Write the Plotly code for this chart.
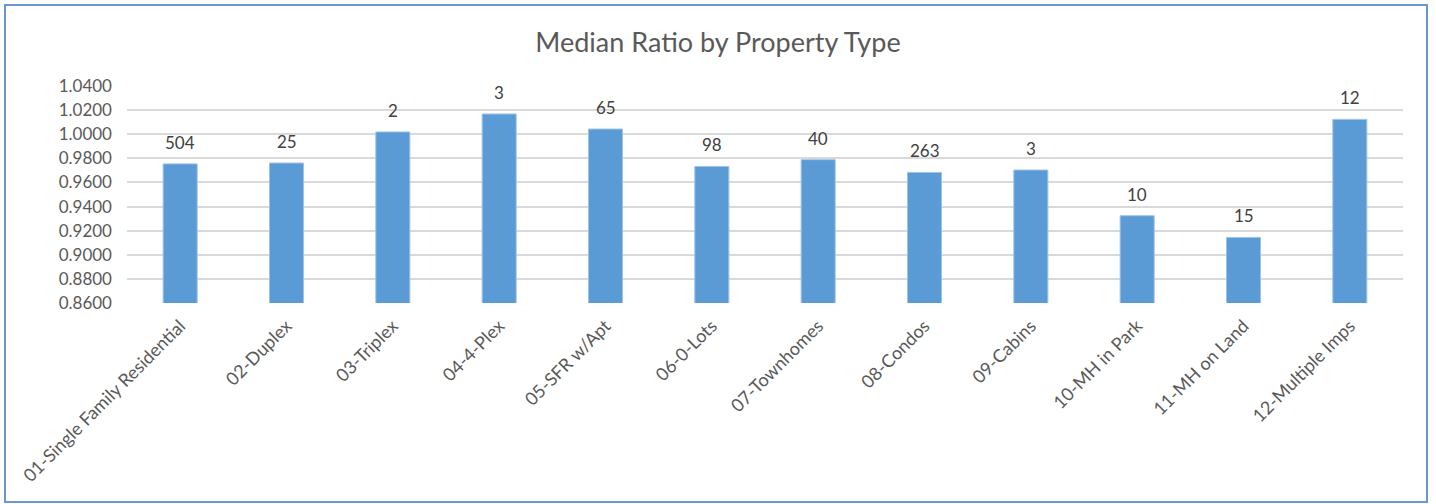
import plotly.graph_objects as go

categories = ["01-Single Family Residential", "02-Duplex", "03-Triplex", "04-4-Plex",
              "05-SFR w/Apt", "06-0-Lots", "07-Townhomes", "08-Condos", "09-Cabins",
              "10-MH in Park", "11-MH on Land", "12-Multiple Imps"]
median_ratio = [0.9754, 0.9761, 1.0019, 1.0168, 1.0043, 0.9733, 0.9789, 0.9683,
                0.9703, 0.9324, 0.9144, 1.0123]
counts = [504, 25, 2, 3, 65, 98, 40, 263, 3, 10, 15, 12]

FONT = "Lato"
fig = go.Figure()
fig.add_trace(go.Bar(
    x=categories, y=median_ratio,
    marker=dict(color="#5B9BD5", line=dict(color="#9DC3E6", width=1)),
    width=0.32, hoverinfo="x+y",
))
for c, v, n in zip(categories, median_ratio, counts):
    fig.add_annotation(x=c, y=v, text=str(n), showarrow=False, yanchor="bottom",
                       yshift=9, font=dict(family=FONT, size=17, color="#404040"))

L, R, T, B = 127, 33, 86, 201
W, H = 1436, 504
pw, ph = W - L - R, H - T - B
def px(x): return (x - L) / pw
def py(y): return (H - B - y) / ph

fig.add_shape(type="rect", xref="paper", yref="paper",
              x0=px(5), x1=px(1427), y0=py(502), y1=py(5),
              line=dict(color="#6A97D4", width=2), fillcolor="rgba(0,0,0,0)", layer="below")

fig.update_layout(
    width=W, height=H, margin=dict(l=L, r=R, t=T, b=B),
    paper_bgcolor="white", plot_bgcolor="white",
    title=dict(text="Median Ratio by Property Type", x=0.5, xanchor="center",
               y=1 - 43 / H, yanchor="middle",
               font=dict(family=FONT, size=27, color="#595959")),
    font=dict(family=FONT, color="#595959"),
    showlegend=False,
    xaxis=dict(tickangle=-45, tickfont=dict(family=FONT, size=18, color="#595959"),
               showgrid=False, showline=False, ticks="", ticklabelstandoff=8,
               fixedrange=True),
    yaxis=dict(range=[0.86, 1.04], tick0=0.86, dtick=0.02, tickformat=".4f",
               showgrid=True, gridcolor="#D9D9D9", gridwidth=1.5,
               zeroline=False, showline=False, ticks="", ticklabelstandoff=14,
               tickfont=dict(family=FONT, size=17, color="#595959")),
)
fig.write_html("out.html")
